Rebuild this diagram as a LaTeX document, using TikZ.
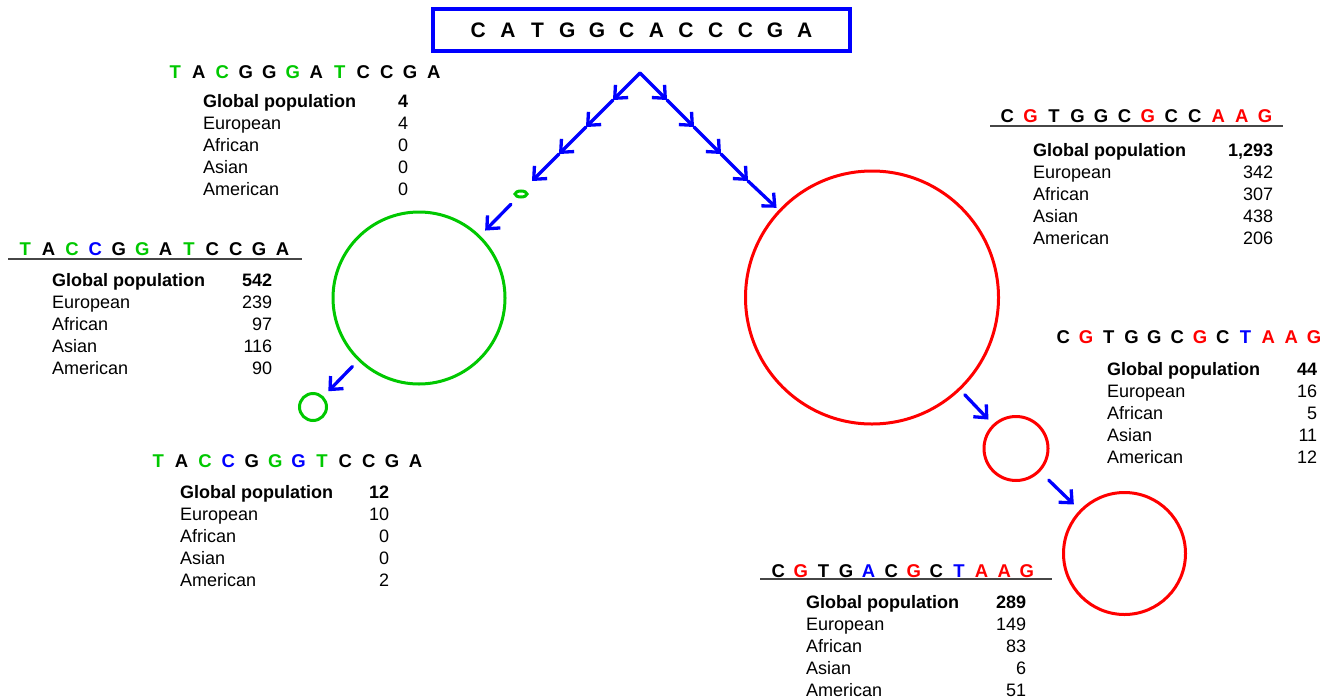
\documentclass[tikz,border=0pt]{standalone}
\usepackage{fontspec}
\setmainfont{Liberation Sans}
\usetikzlibrary{arrows.meta,shapes.geometric}
\definecolor{sgreen}{RGB}{0,200,0}
\definecolor{sblue}{RGB}{0,0,255}
\definecolor{sred}{RGB}{255,0,0}
\definecolor{rulegray}{RGB}{70,70,70}
\newlength\sw
\newcommand\Gt[1]{\makebox[\sw][c]{\textcolor{sgreen}{#1}}}
\newcommand\Kt[1]{\makebox[\sw][c]{#1}}
\newcommand\Bt[1]{\makebox[\sw][c]{\textcolor{sblue}{#1}}}
\newcommand\Rt[1]{\makebox[\sw][c]{\textcolor{sred}{#1}}}
\begin{document}
\begin{tikzpicture}[x=1pt,y=-1pt,
  arr/.style={draw=sblue, line width=3.3pt, line cap=round, -{Straight Barb[length=10pt,width=18pt]}},
  seq/.style={anchor=base west, inner sep=0pt, font=\fontsize{18.5}{22}\selectfont\bfseries},
  tab/.style={anchor=base west, inner sep=0pt, font=\fontsize{18}{22}\selectfont},
  gc/.style={circle, draw=sgreen, line width=3pt, inner sep=0pt},
  rc/.style={circle, draw=sred, line width=3pt, inner sep=0pt},
  uline/.style={draw=rulegray, line width=2pt}]
\useasboundingbox (0,0) rectangle (1330,699);

% top box
\node[draw=sblue, line width=4pt, minimum width=417pt, minimum height=42pt, inner sep=0pt,
      font=\fontsize{21}{25}\selectfont\bfseries] (top) at (641.5,30)
  {\setlength\sw{29.7pt}\Kt C\Kt A\Kt T\Kt G\Kt G\Kt C\Kt A\Kt C\Kt C\Kt C\Kt G\Kt A};

% circles
\node[ellipse, draw=sgreen, line width=3pt, inner sep=0pt, minimum width=12pt, minimum height=6pt] (G0) at (521,194) {};
\node[gc, minimum size=172pt] (G1) at (419,298) {};
\node[gc, minimum size=27pt] (G2) at (313,407) {};
\node[rc, minimum size=253pt] (R1) at (872,297.5) {};
\node[rc, minimum size=64pt] (R2) at (1016,448.5) {};
\node[rc, minimum size=122pt] (R3) at (1124.5,553.5) {};

% arrow chains
\coordinate (apex) at (640,73);
\coordinate (l1) at (613,100);
\coordinate (l2) at (586,127);
\coordinate (l3) at (559,154);
\coordinate (l4) at (532,181);
\coordinate (r1) at (667,100);
\coordinate (r2) at (694,127);
\coordinate (r3) at (721,154);
\coordinate (r4) at (748,181);
\draw[arr] (apex) -- (l1);
\draw[arr] (l1) -- (l2);
\draw[arr] (l2) -- (l3);
\draw[arr] (l3) -- (l4);
\draw[arr] (apex) -- (r1);
\draw[arr] (r1) -- (r2);
\draw[arr] (r2) -- (r3);
\draw[arr] (r3) -- (r4);
\draw[arr, shorten >=3pt] (r4) -- (R1);
\draw[arr, shorten <=9pt, shorten >=7pt] (G0) -- (G1);
\draw[arr, shorten <=8pt, shorten >=7pt] (G1) -- (G2);
\draw[arr, shorten <=6.5pt, shorten >=6.5pt] (R1) -- (R2);
\draw[arr, shorten <=12pt, shorten >=8pt] (R2) -- (R3);

% sequences
\node[seq] (s1) at (163.25,78) {\setlength\sw{23.5pt}\Gt T\Kt A\Gt C\Kt G\Kt G\Gt G\Kt A\Gt T\Kt C\Kt C\Kt G\Kt A};
\node[seq] (s2) at (13.3,255) {\setlength\sw{23.4pt}\Gt T\Kt A\Gt C\Bt C\Kt G\Gt G\Kt A\Gt T\Kt C\Kt C\Kt G\Kt A};
\node[seq] (s3) at (146.3,467) {\setlength\sw{23.4pt}\Gt T\Kt A\Gt C\Bt C\Kt G\Gt G\Bt G\Gt T\Kt C\Kt C\Kt G\Kt A};
\node[seq] (s4) at (995.3,122) {\setlength\sw{23.45pt}\Kt C\Rt G\Kt T\Kt G\Kt G\Kt C\Rt G\Kt C\Kt C\Rt A\Rt A\Rt G};
\node[seq] (s5) at (1051.6,343) {\setlength\sw{22.8pt}\Kt C\Rt G\Kt T\Kt G\Kt G\Kt C\Rt G\Kt C\Bt T\Rt A\Rt A\Rt G};
\node[seq] (s6) at (766.7,577) {\setlength\sw{22.6pt}\Kt C\Rt G\Kt T\Kt G\Bt A\Kt C\Rt G\Kt C\Bt T\Rt A\Rt A\Rt G};

% underlines
\draw[uline] (8,259) -- (302,259);
\draw[uline] (990,126) -- (1283,126);
\draw[uline] (760,579) -- (1052,579);

% tables
\node[tab] (t1) at (203,107) {\begin{tabular*}{205pt}[t]{@{}l@{\extracolsep{\fill}}r@{}}
\textbf{Global population} & \textbf{4}\\ European & 4\\ African & 0\\ Asian & 0\\ American & 0\end{tabular*}};
\node[tab] (t2) at (52,286) {\begin{tabular*}{220pt}[t]{@{}l@{\extracolsep{\fill}}r@{}}
\textbf{Global population} & \textbf{542}\\ European & 239\\ African & 97\\ Asian & 116\\ American & 90\end{tabular*}};
\node[tab] (t3) at (180,498) {\begin{tabular*}{209pt}[t]{@{}l@{\extracolsep{\fill}}r@{}}
\textbf{Global population} & \textbf{12}\\ European & 10\\ African & 0\\ Asian & 0\\ American & 2\end{tabular*}};
\node[tab] (t4) at (1033,156) {\begin{tabular*}{240pt}[t]{@{}l@{\extracolsep{\fill}}r@{}}
\textbf{Global population} & \textbf{1,293}\\ European & 342\\ African & 307\\ Asian & 438\\ American & 206\end{tabular*}};
\node[tab] (t5) at (1107,375) {\begin{tabular*}{210pt}[t]{@{}l@{\extracolsep{\fill}}r@{}}
\textbf{Global population} & \textbf{44}\\ European & 16\\ African & 5\\ Asian & 11\\ American & 12\end{tabular*}};
\node[tab] (t6) at (806,608) {\begin{tabular*}{220pt}[t]{@{}l@{\extracolsep{\fill}}r@{}}
\textbf{Global population} & \textbf{289}\\ European & 149\\ African & 83\\ Asian & 6\\ American & 51\end{tabular*}};
\end{tikzpicture}
\end{document}
